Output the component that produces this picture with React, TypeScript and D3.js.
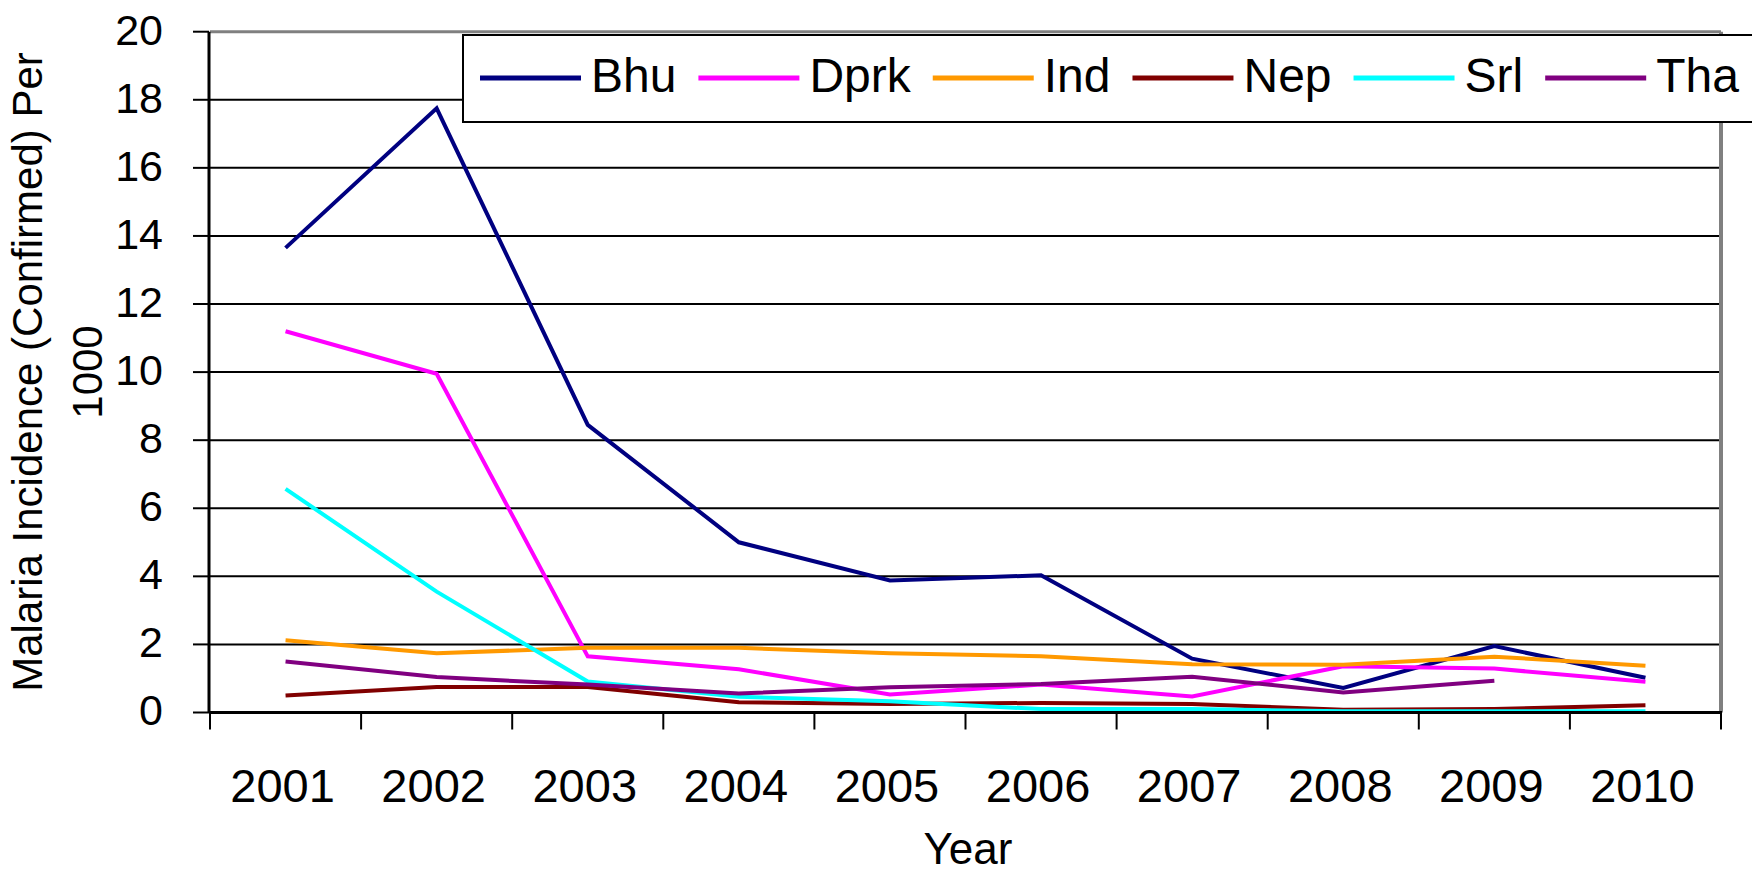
import React from 'react';
import * as d3 from 'd3';

// values
const years = ['2001', '2002', '2003', '2004', '2005', '2006', '2007', '2008', '2009', '2010'];
const bhu = [13.65, 17.75, 8.45, 5.0, 3.88, 4.03, 1.58, 0.72, 1.95, 1.02];
const dprk = [11.2, 9.95, 1.65, 1.27, 0.53, 0.82, 0.47, 1.36, 1.29, 0.9];
const ind = [2.12, 1.74, 1.9, 1.9, 1.74, 1.65, 1.42, 1.4, 1.64, 1.37];
const nep = [0.5, 0.75, 0.75, 0.3, 0.25, 0.28, 0.25, 0.08, 0.1, 0.21];
const srl = [6.57, 3.55, 0.91, 0.46, 0.33, 0.1, 0.1, 0.04, 0.04, 0.04];
const tha = [1.5, 1.04, 0.82, 0.56, 0.74, 0.84, 1.05, 0.59, 0.93, null];
const seriesNames = ['Bhu', 'Dprk', 'Ind', 'Nep', 'Srl', 'Tha'];
const seriesColors = ['#000080', '#ff00ff', '#ff9900', '#800000', '#00ffff', '#800080'];
const yTicks = [0, 2, 4, 6, 8, 10, 12, 14, 16, 18, 20];

const W = 1752;
const H = 875;
const FONT = '"Liberation Sans", Arial, sans-serif';

function measure(txt: string, size: number) {
  const ctx = document.createElement('canvas').getContext('2d');
  if (!ctx) return txt.length * size * 0.55;
  ctx.font = `${size}px "Liberation Sans", Arial, sans-serif`;
  return ctx.measureText(txt).width;
}

export default function App() {
  const series = [bhu, dprk, ind, nep, srl, tha];
  const left = 210, right = 1721, top = 31.7, bottom = 712.5;

  const x = d3.scaleBand<string>().domain(years).range([left, right]);
  const y = d3.scaleLinear().domain([0, 20]).range([bottom, top]);
  const cx = (yr: string) => (x(yr) as number) + x.bandwidth() / 2;

  const line = d3.line<number | null>()
    .defined(d => d != null)
    .x((d, i) => cx(years[i]))
    .y(d => y(d as number));

  // x axis ticks sit on the category boundaries
  const bounds = years.map(yr => x(yr) as number).concat([right]);

  // legend layout
  const legFont = 48;
  let lx = 480;
  const legItems = seriesNames.map((name, i) => {
    const item = { name, color: seriesColors[i], x0: lx, tx: lx + 111 };
    lx = item.tx + measure(name, legFont) + 22;
    return item;
  });

  return (
    <svg width={W} height={H} style={{ position: 'absolute', left: 0, top: 0, background: '#fff' }}
      fontFamily={FONT}>
      <rect x={0} y={0} width={W} height={H} fill="#fff" />
      {/* gridlines */}
      {yTicks.filter(t => t > 0 && t < 20).map(t => (
        <line key={t} x1={left} x2={right} y1={y(t)} y2={y(t)} stroke="#000" strokeWidth={2} />
      ))}
      {/* plot border top/right */}
      <line x1={left} x2={right} y1={top} y2={top} stroke="#808080" strokeWidth={3} />
      <line x1={right} x2={right} y1={top} y2={bottom} stroke="#808080" strokeWidth={4} />

      {/* series */}
      {series.map((s, i) => (
        <path key={seriesNames[i]} d={line(s) || ''} fill="none" stroke={seriesColors[i]}
          strokeWidth={4} strokeLinejoin="miter" />
      ))}

      {/* y axis */}
      <line x1={209} x2={209} y1={top} y2={bottom} stroke="#000" strokeWidth={3} />
      {yTicks.map(t => (
        <g key={t}>
          <line x1={193} x2={209} y1={y(t)} y2={y(t)} stroke="#000" strokeWidth={2} />
          <text x={163} y={y(t)} dy="0.3em" textAnchor="end" fontSize={43} fill="#000">{t}</text>
        </g>
      ))}

      {/* x axis */}
      <line x1={left - 1} x2={right + 1} y1={bottom} y2={bottom} stroke="#000" strokeWidth={3} />
      {bounds.map((b, i) => (
        <line key={i} x1={b} x2={b} y1={bottom} y2={bottom + 17} stroke="#000" strokeWidth={2} />
      ))}
      {years.map(yr => (
        <text key={yr} x={cx(yr) - 3} y={802} textAnchor="middle" fontSize={47} fill="#000">{yr}</text>
      ))}

      {/* axis titles */}
      <text x={968} y={864} textAnchor="middle" fontSize={44} fill="#000">Year</text>
      <g transform="translate(42,372) rotate(-90)">
        <text x={0} y={0} textAnchor="middle" fontSize={42} fill="#000">Malaria Incidence (Confirmed) Per</text>
      </g>
      <g transform="translate(102,372) rotate(-90)">
        <text x={0} y={0} textAnchor="middle" fontSize={42} fill="#000">1000</text>
      </g>

      {/* legend */}
      <rect x={463} y={35} width={1320} height={87} fill="#fff" stroke="#000" strokeWidth={2} />
      {legItems.map(it => (
        <g key={it.name}>
          <line x1={it.x0} x2={it.x0 + 101} y1={78} y2={78} stroke={it.color} strokeWidth={5} />
          <text x={it.tx} y={92} fontSize={legFont} fill="#000">{it.name}</text>
        </g>
      ))}
    </svg>
  );
}
